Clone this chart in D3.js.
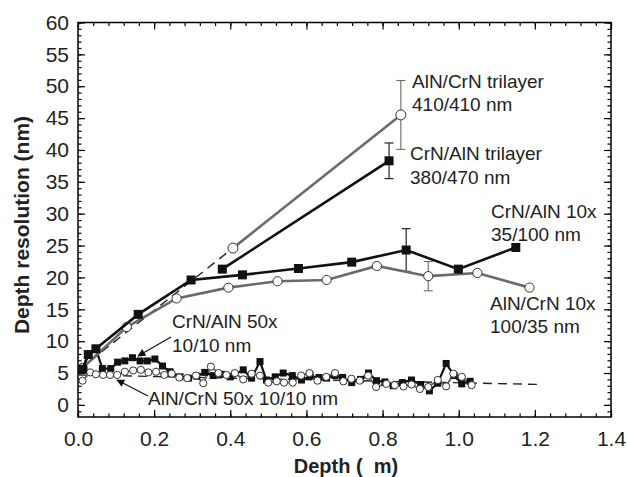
<!DOCTYPE html>
<html>
<head>
<meta charset="utf-8">
<script src="https://cdn.jsdelivr.net/npm/d3@7"></script>
<style>
  html, body { margin: 0; padding: 0; background: #fff; }
  svg { display: block; font-family: "Liberation Sans", Arial, Helvetica, sans-serif; }
</style>
</head>
<body>
<svg id="chart" width="627" height="477"></svg>
<script>
// Depth resolution of CrN/AlN and AlN/CrN multilayers versus sputter depth

// Trilayers
const crnTriDepth = [0.379, 0.817];
const crnTriRes   = [21.3, 38.3];
const crnTriErr   = [null, 2.8];
const alnTriDepth = [0.407, 0.848];
const alnTriRes   = [24.6, 45.5];
const alnTriErr   = [null, 5.4];

// 10x multilayers
const crn10Depth = [0.012, 0.027, 0.047, 0.158, 0.297, 0.432, 0.579, 0.719, 0.862, 0.999, 1.15];
const crn10Res   = [5.6, 7.9, 8.8, 14.2, 19.6, 20.4, 21.4, 22.4, 24.3, 21.3, 24.7];
const crn10Err   = [null, null, null, null, null, null, null, null, 3.35, null, null];
const aln10Depth = [0.012, 0.128, 0.259, 0.395, 0.524, 0.653, 0.785, 0.92, 1.049, 1.186];
const aln10Res   = [5.8, 12.2, 16.7, 18.4, 19.4, 19.6, 21.8, 20.2, 20.7, 18.4];
const aln10Err   = [null, null, null, null, null, null, null, 2.3, null, null];

// 50x multilayers (10/10 nm)
const crn50Depth = [0.012, 0.027, 0.047, 0.064, 0.086, 0.104, 0.123, 0.143, 0.163, 0.182, 0.202, 0.222,
  0.242, 0.268, 0.290, 0.312, 0.333, 0.355, 0.378, 0.400, 0.434, 0.456, 0.478, 0.495, 0.518, 0.539,
  0.563, 0.587, 0.610, 0.633, 0.653, 0.675, 0.695, 0.719, 0.742, 0.763, 0.784, 0.806, 0.828, 0.852,
  0.876, 0.900, 0.923, 0.945, 0.967, 0.988, 1.008, 1.030];
const crn50Res = [5.6, 7.9, 8.8, 5.7, 5.7, 6.7, 6.9, 7.4, 6.9, 6.9, 7.2, 6.1,
  5.2, 4.4, 4.2, 4.5, 5.1, 4.6, 4.8, 4.4, 5.5, 4.2, 6.8, 3.9, 4.4, 5.0,
  4.6, 3.9, 4.5, 4.3, 4.2, 4.6, 4.3, 3.5, 4.0, 5.0, 3.8, 3.6, 3.0, 3.5,
  3.9, 3.2, 2.2, 3.4, 6.5, 4.6, 3.3, 3.7];
const aln50Depth = [0.012, 0.032, 0.047, 0.066, 0.084, 0.103, 0.123, 0.145, 0.165, 0.185, 0.205, 0.227,
  0.246, 0.266, 0.287, 0.310, 0.329, 0.349, 0.369, 0.390, 0.412, 0.434, 0.456, 0.478, 0.500, 0.522,
  0.541, 0.564, 0.586, 0.608, 0.629, 0.652, 0.675, 0.697, 0.718, 0.740, 0.762, 0.783, 0.810, 0.832,
  0.855, 0.876, 0.898, 0.920, 0.945, 0.967, 0.986, 1.008, 1.034];
const aln50Res = [3.8, 5.1, 4.8, 4.7, 4.7, 4.7, 5.2, 5.4, 5.5, 5.1, 5.2, 4.7,
  4.9, 4.3, 4.2, 4.6, 3.4, 6.0, 5.0, 4.7, 5.0, 4.0, 4.9, 4.6, 3.5, 3.7,
  3.5, 3.5, 4.6, 5.0, 3.8, 4.4, 5.0, 3.7, 4.1, 3.8, 4.6, 2.8, 3.3, 3.1,
  2.9, 3.2, 2.5, 2.8, 3.9, 2.9, 4.9, 4.4, 3.1];

// Dashed guide lines
const triGuideDepth = [0.0, 0.407];
const triGuideRes   = [5.4, 24.6];
const fineGuideDepth = [0.0, 1.22];
const fineGuideRes   = [4.7, 3.2];

// Axis ticks
const xTicks = [0.0, 0.2, 0.4, 0.6, 0.8, 1.0, 1.2, 1.4];
const yTicks = [0, 5, 10, 15, 20, 25, 30, 35, 40, 45, 50, 55, 60];

const zip = (xs, ys, es) => xs.map((d, i) => ({ x: d, y: ys[i], e: es ? es[i] : null }));

const svg = d3.select("#chart");
const pLeft = 78, pRight = 611, pTop = 22.5, pBottom = 417;

const x = d3.scaleLinear().domain([0, 1.4]).range([pLeft, pRight]);
const y = d3.scaleLinear().domain([-1.9, 60]).range([pBottom, pTop]);

const GRAY = "#6a6a6a";

// Frame with inward ticks on all sides
const axisG = svg.append("g");
const xMinor = d3.range(0, 1.4001, 0.04);
const yMinor = d3.range(-1, 60.001, 1);

function tickSet(axisGen, transform) {
  const g = axisG.append("g").attr("transform", transform).call(axisGen);
  g.select(".domain").remove();
  g.selectAll("line").attr("stroke", "#000").attr("stroke-width", 1.2);
  return g;
}
tickSet(d3.axisBottom(x).tickValues(xMinor).tickSize(-3.5).tickFormat(""), `translate(0,${pBottom})`);
tickSet(d3.axisBottom(x).tickValues(xTicks).tickSize(-7).tickFormat(""), `translate(0,${pBottom})`);
tickSet(d3.axisTop(x).tickValues(xMinor).tickSize(-3.5).tickFormat(""), `translate(0,${pTop})`);
tickSet(d3.axisTop(x).tickValues(xTicks).tickSize(-7).tickFormat(""), `translate(0,${pTop})`);
tickSet(d3.axisLeft(y).tickValues(yMinor).tickSize(-3.5).tickFormat(""), `translate(${pLeft},0)`);
tickSet(d3.axisLeft(y).tickValues(yTicks).tickSize(-7).tickFormat(""), `translate(${pLeft},0)`);
tickSet(d3.axisRight(y).tickValues(yMinor).tickSize(-3.5).tickFormat(""), `translate(${pRight},0)`);
tickSet(d3.axisRight(y).tickValues(yTicks).tickSize(-7).tickFormat(""), `translate(${pRight},0)`);

// Tick labels
const xl = axisG.append("g").attr("transform", `translate(0,${pBottom})`)
  .call(d3.axisBottom(x).tickValues(xTicks).tickSize(0).tickPadding(14).tickFormat(d3.format(".1f")));
xl.select(".domain").remove();
xl.selectAll("text").attr("font-size", 21).attr("fill", "#222")
  .attr("font-family", "'Liberation Sans', Arial, sans-serif");
const yl = axisG.append("g").attr("transform", `translate(${pLeft},0)`)
  .call(d3.axisLeft(y).tickValues(yTicks).tickSize(0).tickPadding(9).tickFormat(d3.format("d")));
yl.select(".domain").remove();
yl.selectAll("text").attr("font-size", 21).attr("fill", "#222")
  .attr("font-family", "'Liberation Sans', Arial, sans-serif");

svg.append("rect").attr("x", pLeft).attr("y", pTop)
  .attr("width", pRight - pLeft).attr("height", pBottom - pTop)
  .attr("fill", "none").attr("stroke", "#000").attr("stroke-width", 1.5);

// Axis titles
svg.append("text").attr("x", 346).attr("y", 473)
  .attr("text-anchor", "middle").attr("font-weight", "bold").attr("font-size", 20)
  .attr("fill", "#222").style("white-space", "pre").text("Depth (  m)");
svg.append("text").attr("transform", `translate(29,225) rotate(-90)`)
  .attr("text-anchor", "middle").attr("font-weight", "bold").attr("font-size", 21)
  .attr("fill", "#222").text("Depth resolution (nm)");

const plot = svg.append("g");
const line = d3.line().x(d => x(d.x)).y(d => y(d.y));

// Dashed guides
plot.append("path").datum(zip(triGuideDepth, triGuideRes)).attr("d", line)
  .attr("fill", "none").attr("stroke", "#222").attr("stroke-width", 1.4).attr("stroke-dasharray", "9,6");
plot.append("path").datum(zip(fineGuideDepth, fineGuideRes)).attr("d", line)
  .attr("fill", "none").attr("stroke", "#222").attr("stroke-width", 1.4).attr("stroke-dasharray", "9,6");

function errorBars(data, color) {
  const g = plot.append("g").attr("stroke", color).attr("stroke-width", 1.1);
  data.filter(d => d.e != null).forEach(d => {
    const cx = x(d.x);
    g.append("line").attr("x1", cx).attr("x2", cx).attr("y1", y(d.y - d.e)).attr("y2", y(d.y + d.e));
    g.append("line").attr("x1", cx - 4.5).attr("x2", cx + 4.5).attr("y1", y(d.y + d.e)).attr("y2", y(d.y + d.e));
    g.append("line").attr("x1", cx - 4.5).attr("x2", cx + 4.5).attr("y1", y(d.y - d.e)).attr("y2", y(d.y - d.e));
  });
}

function squares(data, color, width, size) {
  plot.append("path").datum(data).attr("d", line)
    .attr("fill", "none").attr("stroke", color).attr("stroke-width", width);
  plot.append("g").selectAll("rect").data(data).join("rect")
    .attr("x", d => x(d.x) - size / 2).attr("y", d => y(d.y) - size / 2)
    .attr("width", size).attr("height", size).attr("fill", "#111");
}

function circles(data, color, width, r) {
  plot.append("path").datum(data).attr("d", line)
    .attr("fill", "none").attr("stroke", color).attr("stroke-width", width);
  plot.append("g").selectAll("circle").data(data).join("circle")
    .attr("cx", d => x(d.x)).attr("cy", d => y(d.y)).attr("r", r)
    .attr("fill", "#fff").attr("stroke", "#333").attr("stroke-width", 1);
}

// 50x series
const aln50 = zip(aln50Depth, aln50Res);
const crn50 = zip(crn50Depth, crn50Res);
plot.append("path").datum(aln50).attr("d", line).attr("fill", "none").attr("stroke", GRAY).attr("stroke-width", 2);
squares(crn50, "#111", 2.2, 7);
circles(aln50, GRAY, 0, 3.6);

// 10x series
const aln10 = zip(aln10Depth, aln10Res, aln10Err);
const crn10 = zip(crn10Depth, crn10Res, crn10Err);
errorBars(aln10, GRAY);
errorBars(crn10, "#111");
circles(aln10, GRAY, 2.6, 4.6);
squares(crn10, "#111", 2.6, 9);

// Trilayers
const alnTri = zip(alnTriDepth, alnTriRes, alnTriErr);
const crnTri = zip(crnTriDepth, crnTriRes, crnTriErr);
errorBars(alnTri, GRAY);
errorBars(crnTri, "#111");
circles(alnTri, GRAY, 2.6, 5);
squares(crnTri, "#111", 2.6, 9);

// Series labels
const labels = [
  { t: "AlN/CrN trilayer", x: 412, y: 88 },
  { t: "410/410 nm", x: 412, y: 111 },
  { t: "CrN/AlN trilayer", x: 410, y: 160 },
  { t: "380/470 nm", x: 410, y: 184 },
  { t: "CrN/AlN 10x", x: 491, y: 218 },
  { t: "35/100 nm", x: 491, y: 241 },
  { t: "AlN/CrN 10x", x: 490, y: 310 },
  { t: "100/35 nm", x: 490, y: 333 },
  { t: "CrN/AlN 50x", x: 172, y: 328 },
  { t: "10/10 nm", x: 172, y: 352 },
  { t: "AlN/CrN 50x 10/10 nm", x: 148, y: 405 }
];
svg.append("g").selectAll("text").data(labels).join("text")
  .attr("x", d => d.x).attr("y", d => d.y)
  .attr("font-size", 19).attr("fill", "#222").text(d => d.t);

// Pointer arrows
svg.append("defs").append("marker").attr("id", "head")
  .attr("viewBox", "0 0 10 10").attr("refX", 9).attr("refY", 5)
  .attr("markerWidth", 10).attr("markerHeight", 8).attr("markerUnits", "userSpaceOnUse")
  .attr("orient", "auto")
  .append("path").attr("d", "M0,0 L10,5 L0,10 Z").attr("fill", "#111");
const arrows = [
  { x1: 171, y1: 337, x2: 138, y2: 356 },
  { x1: 148, y1: 396, x2: 117, y2: 380 }
];
svg.append("g").selectAll("line").data(arrows).join("line")
  .attr("x1", d => d.x1).attr("y1", d => d.y1).attr("x2", d => d.x2).attr("y2", d => d.y2)
  .attr("stroke", "#111").attr("stroke-width", 1.1).attr("marker-end", "url(#head)");
</script>
</body>
</html>
